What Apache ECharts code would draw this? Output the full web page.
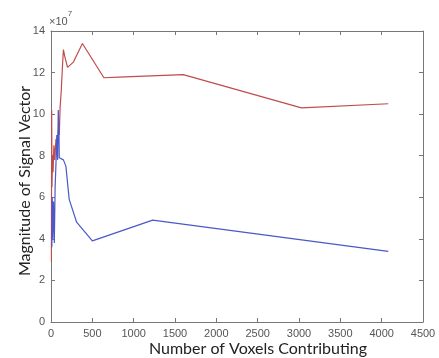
<!DOCTYPE html>
<html>
<head>
<meta charset="utf-8">
<script src="https://cdn.jsdelivr.net/npm/echarts@6/dist/echarts.min.js"></script>
<style>
  html, body { margin: 0; padding: 0; background: #fff; }
  #chart { width: 439px; height: 358px; }
</style>
</head>
<body>
<div id="chart"></div>
<script>
// values (y in units of 1e7)
const redX = [5, 8, 12, 18, 25, 35, 45, 60, 75, 90, 100, 110, 125, 140, 150, 165, 200, 270, 380, 640, 820, 1600, 3030, 4080];
const redY = [2.9, 10.2, 6.5, 8.0, 7.2, 8.5, 7.8, 8.8, 8.3, 9.3, 9.0, 10.3, 11.2, 12.4, 13.1, 12.8, 12.25, 12.5, 13.4, 11.75, 11.78, 11.9, 10.3, 10.5];
const blueX = [10, 15, 20, 30, 40, 50, 60, 70, 80, 88, 95, 100, 150, 180, 220, 310, 500, 1230, 4080];
const blueY = [3.6, 6.0, 4.0, 5.8, 3.8, 6.5, 7.6, 9.0, 7.8, 10.2, 9.5, 7.9, 7.8, 7.5, 5.9, 4.8, 3.9, 4.9, 3.4];

const xMin = 0, xMax = 4500, xStep = 500;
const yMin = 0, yMax = 14, yStep = 2;

const xTitle = 'Number of Voxels Contributing';
const yTitle = 'Magnitude of Signal Vector';

const chart = echarts.init(document.getElementById('chart'));

const pairs = (xs, ys) => xs.map((x, i) => [x, ys[i]]);

const tickFont = 'Liberation Sans, Arial, sans-serif';
const titleFont = 'Lato, Open Sans, sans-serif';
const tickStyle = { color: '#555', fontSize: 11, fontFamily: tickFont };
const lineStyle = { color: '#777', width: 1 };

const boxAxis = (extra) => Object.assign({
  type: 'value',
  axisLine: { show: true, onZero: false, lineStyle: lineStyle },
  axisTick: { show: true, inside: true, length: 4, lineStyle: lineStyle },
  splitLine: { show: false }
}, extra);

const option = {
  animation: false,
  grid: { left: 51, top: 31, right: 16, bottom: 36 },
  xAxis: [
    boxAxis({
      min: xMin, max: xMax, interval: xStep,
      axisLabel: Object.assign({ margin: 6, formatter: v => String(v) }, tickStyle)
    }),
    boxAxis({
      min: xMin, max: xMax, interval: xStep, position: 'top',
      axisLabel: { show: false }
    })
  ],
  yAxis: [
    boxAxis({
      min: yMin, max: yMax, interval: yStep,
      axisLabel: Object.assign({ margin: 6 }, tickStyle)
    }),
    boxAxis({
      min: yMin, max: yMax, interval: yStep, position: 'right',
      axisLabel: { show: false }
    })
  ],
  graphic: [
    {
      type: 'text', left: 49, top: 10,
      style: {
        text: '{a|\u00d710}{b|7}',
        rich: {
          a: { fill: '#555', fontSize: 11, fontFamily: tickFont, verticalAlign: 'bottom', padding: [6, 0, 0, 0] },
          b: { fill: '#555', fontSize: 8, fontFamily: tickFont, verticalAlign: 'top' }
        }
      }
    },
    {
      type: 'text', x: 258, y: 349,
      style: {
        text: xTitle, fill: '#222', fontSize: 16, fontFamily: titleFont,
        align: 'center', verticalAlign: 'middle'
      }
    },
    {
      type: 'text', x: 25, y: 181, rotation: Math.PI / 2,
      style: {
        text: yTitle, fill: '#222', fontSize: 16, fontFamily: titleFont,
        align: 'center', verticalAlign: 'middle'
      }
    }
  ],
  series: [
    {
      name: 'red', type: 'line', data: pairs(redX, redY),
      showSymbol: false, symbol: 'none',
      lineStyle: { color: '#c04c4c', width: 1.2 }
    },
    {
      name: 'blue', type: 'line', data: pairs(blueX, blueY),
      showSymbol: false, symbol: 'none',
      lineStyle: { color: '#4a58c8', width: 1.2 }
    }
  ]
};

chart.setOption(option);
</script>
</body>
</html>
